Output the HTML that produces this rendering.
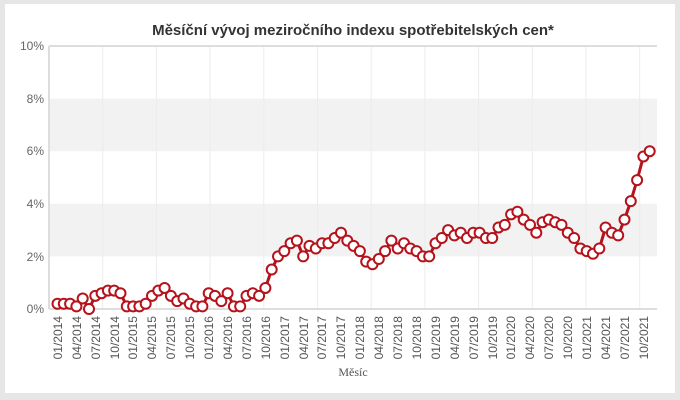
<!DOCTYPE html>
<html><head><meta charset="utf-8"><style>
body{margin:0;background:#e6e6e6;}
#c{position:absolute;left:5px;top:4px;width:670px;height:389px;background:#fff;}
svg{position:absolute;left:0;top:0;}
text{font-family:"Liberation Sans",Arial,sans-serif;}
</style></head><body>
<div id="c"></div>
<svg width="680" height="400" xmlns="http://www.w3.org/2000/svg">
<rect x="49" y="98.6" width="608" height="52.6" fill="#f2f2f2"/>
<rect x="49" y="203.8" width="608" height="52.6" fill="#f2f2f2"/>
<g id="vg" stroke="#ececec" stroke-width="1"></g>
<line x1="49" y1="46" x2="657" y2="46" stroke="#ddd" stroke-width="2"/>
<line x1="49" y1="46" x2="49" y2="309" stroke="#ddd" stroke-width="2"/>
<line x1="49" y1="309" x2="657" y2="309" stroke="#ddd" stroke-width="2"/>
<text x="353" y="35" text-anchor="middle" font-size="15" font-weight="bold" fill="#333">Měsíční vývoj meziročního indexu spotřebitelských cen*</text>
<g font-size="12" fill="#666" text-anchor="end">
<text x="44" y="50">10%</text><text x="44" y="103">8%</text><text x="44" y="155">6%</text><text x="44" y="208">4%</text><text x="44" y="261">2%</text><text x="44" y="313">0%</text>
</g>
<g id="xl" font-size="12" fill="#555" text-anchor="end">
<text transform="translate(62,316) rotate(-90)">01/2014</text>
<text transform="translate(81,316) rotate(-90)">04/2014</text>
<text transform="translate(100,316) rotate(-90)">07/2014</text>
<text transform="translate(119,316) rotate(-90)">10/2014</text>
<text transform="translate(137,316) rotate(-90)">01/2015</text>
<text transform="translate(156,316) rotate(-90)">04/2015</text>
<text transform="translate(175,316) rotate(-90)">07/2015</text>
<text transform="translate(194,316) rotate(-90)">10/2015</text>
<text transform="translate(213,316) rotate(-90)">01/2016</text>
<text transform="translate(232,316) rotate(-90)">04/2016</text>
<text transform="translate(251,316) rotate(-90)">07/2016</text>
<text transform="translate(270,316) rotate(-90)">10/2016</text>
<text transform="translate(289,316) rotate(-90)">01/2017</text>
<text transform="translate(308,316) rotate(-90)">04/2017</text>
<text transform="translate(326,316) rotate(-90)">07/2017</text>
<text transform="translate(345,316) rotate(-90)">10/2017</text>
<text transform="translate(364,316) rotate(-90)">01/2018</text>
<text transform="translate(383,316) rotate(-90)">04/2018</text>
<text transform="translate(402,316) rotate(-90)">07/2018</text>
<text transform="translate(421,316) rotate(-90)">10/2018</text>
<text transform="translate(440,316) rotate(-90)">01/2019</text>
<text transform="translate(459,316) rotate(-90)">04/2019</text>
<text transform="translate(478,316) rotate(-90)">07/2019</text>
<text transform="translate(497,316) rotate(-90)">10/2019</text>
<text transform="translate(515,316) rotate(-90)">01/2020</text>
<text transform="translate(534,316) rotate(-90)">04/2020</text>
<text transform="translate(553,316) rotate(-90)">07/2020</text>
<text transform="translate(572,316) rotate(-90)">10/2020</text>
<text transform="translate(591,316) rotate(-90)">01/2021</text>
<text transform="translate(610,316) rotate(-90)">04/2021</text>
<text transform="translate(629,316) rotate(-90)">07/2021</text>
<text transform="translate(648,316) rotate(-90)">10/2021</text>
</g>
<text x="353" y="376" text-anchor="middle" font-size="12" fill="#555" style="font-family:'Liberation Serif',serif">Měsíc</text>
<polyline id="ln" fill="none" stroke="#b5121b" stroke-width="3" stroke-linejoin="round"/>
<g id="pt" fill="#fff" stroke="#b5121b" stroke-width="2"></g>
</svg>
<script>
var v=[0.2,0.2,0.2,0.1,0.4,0.0,0.5,0.6,0.7,0.7,0.6,0.1,
0.1,0.1,0.2,0.5,0.7,0.8,0.5,0.3,0.4,0.2,0.1,0.1,
0.6,0.5,0.3,0.6,0.1,0.1,0.5,0.6,0.5,0.8,1.5,2.0,
2.2,2.5,2.6,2.0,2.4,2.3,2.5,2.5,2.7,2.9,2.6,2.4,
2.2,1.8,1.7,1.9,2.2,2.6,2.3,2.5,2.3,2.2,2.0,2.0,
2.5,2.7,3.0,2.8,2.9,2.7,2.9,2.9,2.7,2.7,3.1,3.2,
3.6,3.7,3.4,3.2,2.9,3.3,3.4,3.3,3.2,2.9,2.7,2.3,
2.2,2.1,2.3,3.1,2.9,2.8,3.4,4.1,4.9,5.8,6.0];
var ns="http://www.w3.org/2000/svg",pts=[],g=document.getElementById('pt');
for(var i=0;i<v.length;i++){var x=57.5+6.3*i,y=309-v[i]*26.3;pts.push(x+','+y);
var c=document.createElementNS(ns,'circle');c.setAttribute('cx',x);c.setAttribute('cy',y);c.setAttribute('r',5);g.appendChild(c);}
document.getElementById('ln').setAttribute('points',pts.join(' '));
var vg=document.getElementById('vg');
for(var k=1;k<12;k++){var x=49+53.7*k;if(x>656)break;var l=document.createElementNS(ns,'line');
l.setAttribute('x1',x);l.setAttribute('x2',x);l.setAttribute('y1',46);l.setAttribute('y2',309);vg.appendChild(l);}
</script>
</body></html>
